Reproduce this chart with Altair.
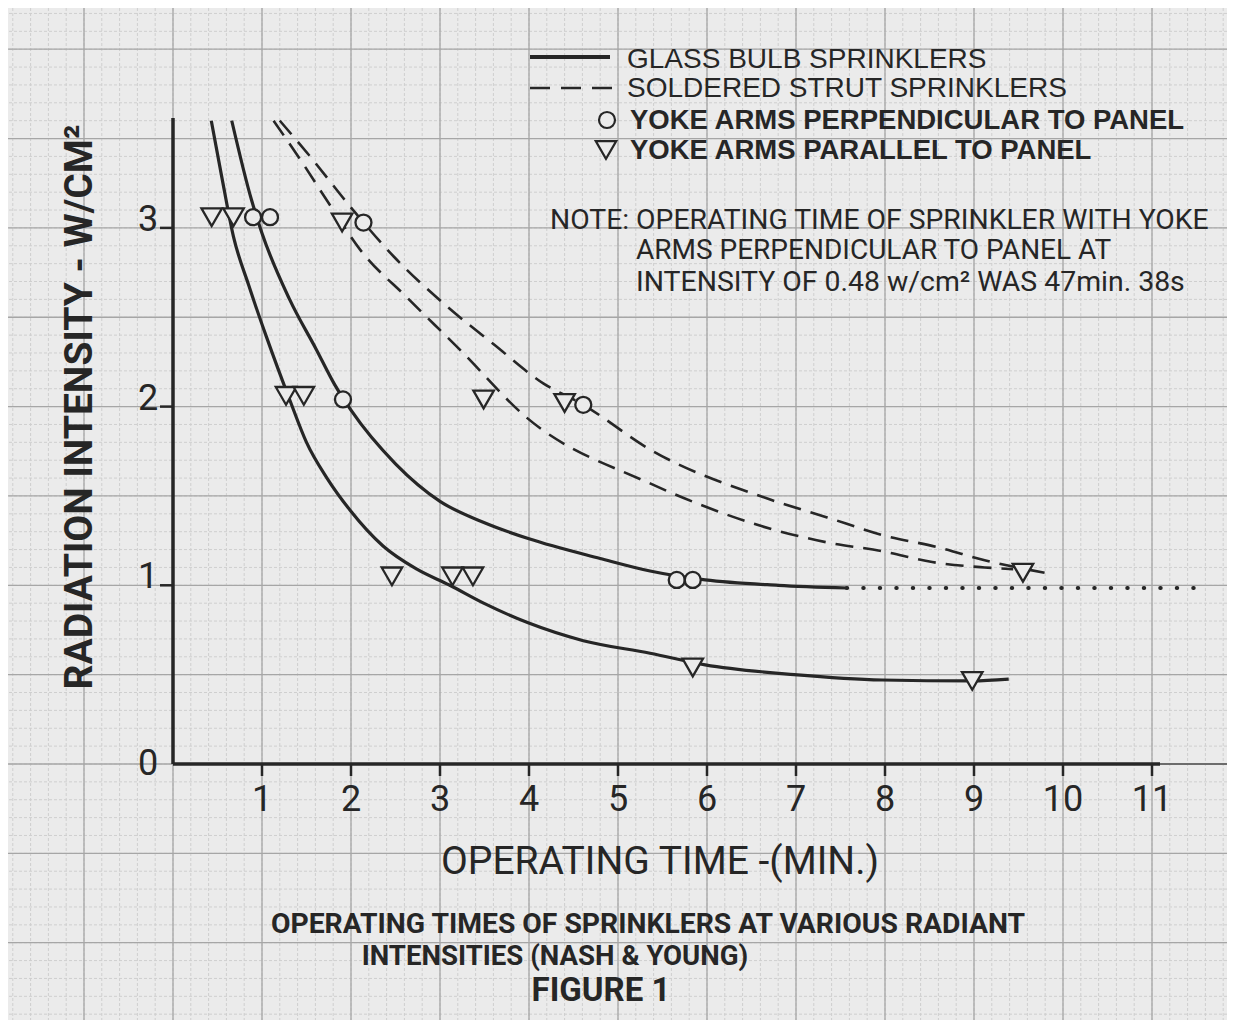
import altair as alt
import numpy as np
import pandas as pd

# ------------------------------------------------------------------ data
# Glass bulb sprinklers, yoke arms parallel to panel (lower solid curve)
GP_X = [0.43, 0.55, 0.68, 0.85, 1.05, 1.31, 1.50, 1.73, 1.99, 2.36, 2.74, 3.11, 3.49, 3.99, 4.61, 5.36, 5.98, 6.98, 7.97, 8.98, 9.39]
GP_Y = [3.60, 3.28, 2.95, 2.68, 2.39, 2.04, 1.80, 1.60, 1.42, 1.22, 1.09, 1.00, 0.90, 0.79, 0.69, 0.62, 0.555, 0.50, 0.47, 0.465, 0.475]
# Glass bulb sprinklers, yoke arms perpendicular to panel (upper solid curve)
GQ_X = [0.66, 0.88, 1.00, 1.31, 1.61, 1.82, 2.00, 2.50, 3.00, 3.50, 4.00, 4.80, 5.36, 5.98, 6.80, 7.57]
GQ_Y = [3.60, 3.16, 2.97, 2.60, 2.32, 2.12, 1.98, 1.68, 1.47, 1.35, 1.26, 1.15, 1.08, 1.03, 1.00, 0.985]
# dotted continuation of the upper solid curve
DOT_X = [7.57, 11.48]
DOT_Y = [0.985, 0.985]
# Soldered strut sprinklers, perpendicular (outer dashed curve)
SQ_X = [1.20, 1.54, 1.99, 2.48, 3.08, 3.60, 4.16, 4.61, 5.36, 6.71, 7.35, 7.98, 8.62, 9.12, 9.80]
SQ_Y = [3.60, 3.40, 3.12, 2.84, 2.56, 2.35, 2.13, 2.01, 1.76, 1.48, 1.38, 1.28, 1.21, 1.14, 1.07]
# Soldered strut sprinklers, parallel (inner dashed curve)
SP_X = [1.13, 1.46, 1.80, 2.10, 2.63, 3.22, 3.97, 5.36, 5.93, 6.62, 7.35, 7.98, 8.53, 9.12, 9.44]
SP_Y = [3.60, 3.36, 3.10, 2.88, 2.61, 2.32, 1.94, 1.57, 1.45, 1.33, 1.24, 1.19, 1.13, 1.10, 1.09]

# measured points: yoke arms perpendicular (circles) / parallel (triangles)
CIRC_X = [0.90, 1.09, 2.14, 1.91, 4.61, 5.66, 5.84]
CIRC_Y = [3.06, 3.06, 3.03, 2.04, 2.01, 1.03, 1.03]
TRI_X = [0.435, 0.68, 1.90, 1.27, 1.47, 3.49, 4.40, 2.46, 3.14, 3.37, 5.84, 8.98, 9.55]
TRI_Y = [3.06, 3.06, 3.03, 2.06, 2.06, 2.04, 2.02, 1.05, 1.05, 1.05, 0.54, 0.465, 1.07]

X_TICKS = [1, 2, 3, 4, 5, 6, 7, 8, 9, 10, 11]
Y_TICKS = [0, 1, 2, 3]
Y_AXIS_TOP = 3.615
X_AXIS_END = 11.09

LEGEND_TEXT = ["GLASS BULB SPRINKLERS", "SOLDERED STRUT SPRINKLERS",
               "YOKE ARMS PERPENDICULAR TO PANEL", "YOKE ARMS PARALLEL TO PANEL"]
NOTE_TEXT = ["NOTE: OPERATING TIME OF SPRINKLER WITH YOKE",
             "ARMS PERPENDICULAR TO PANEL AT",
             "INTENSITY OF 0.48 w/cm\u00b2 WAS 47min. 38s"]
Y_TITLE = "RADIATION INTENSITY - W/CM\u00b2"
X_TITLE = "OPERATING TIME -(MIN.)"
CAPTION = ["OPERATING TIMES OF SPRINKLERS AT VARIOUS RADIANT",
           "INTENSITIES (NASH & YOUNG)", "FIGURE 1"]

# ------------------------------------------------------------------ layout
W, H = 1219, 1012
X0, XU = 165.0, 89.0      # pixel of x = 0, pixels per minute
Y0, YU = 756.0, 178.7     # pixel of y = 0, pixels per W/cm2
XDOM = [-X0 / XU, (W - X0) / XU]
YDOM = [-(H - Y0) / YU, Y0 / YU]

BG = "#ebebeb"
INK = "#262626"
SANS = "Liberation Sans, Arial, sans-serif"
NARROW = "Roboto, sans-serif"

xs = alt.Scale(domain=XDOM, nice=False, zero=False)
ys = alt.Scale(domain=YDOM, nice=False, zero=False)


def ex(f):
    return alt.X(f, type="quantitative", scale=xs, axis=None)


def ey(f):
    return alt.Y(f, type="quantitative", scale=ys, axis=None)


# ---- graph-paper grid
vmin = np.round(np.arange(np.ceil(XDOM[0] / 0.2) * 0.2, XDOM[1], 0.2), 3)
hmin = np.round(np.arange(np.ceil(YDOM[0] / 0.1) * 0.1, YDOM[1], 0.1), 3)
vmaj = [float(v) for v in vmin if abs(v - round(v)) < 1e-6]
hmaj = [float(h) for h in hmin if abs(h * 2 - round(h * 2)) < 1e-6]

grid_v = alt.Chart(pd.DataFrame({"v": vmin})).mark_rule(color="#cfcfcf", strokeWidth=1, strokeDash=[3, 2]).encode(x=ex("v"))
grid_h = alt.Chart(pd.DataFrame({"h": hmin})).mark_rule(color="#cfcfcf", strokeWidth=1, strokeDash=[3, 2]).encode(y=ey("h"))
grid_V = alt.Chart(pd.DataFrame({"v": vmaj})).mark_rule(color="#a6a6a6", strokeWidth=1.3).encode(x=ex("v"))
grid_H = alt.Chart(pd.DataFrame({"h": hmaj})).mark_rule(color="#a6a6a6", strokeWidth=1.3).encode(y=ey("h"))

# ---- curves
glass = pd.concat([
    pd.DataFrame({"x": GP_X, "y": GP_Y, "yoke": "parallel"}),
    pd.DataFrame({"x": GQ_X, "y": GQ_Y, "yoke": "perpendicular"}),
], ignore_index=True)
soldered = pd.concat([
    pd.DataFrame({"x": SQ_X, "y": SQ_Y, "yoke": "perpendicular"}),
    pd.DataFrame({"x": SP_X, "y": SP_Y, "yoke": "parallel"}),
], ignore_index=True)
solid = alt.Chart(glass).mark_line(
    color=INK, strokeWidth=3.2, interpolate="monotone").encode(
    x=ex("x"), y=ey("y"), detail="yoke:N", order="x:Q")
dashed = alt.Chart(soldered).mark_line(
    color=INK, strokeWidth=2.6, strokeDash=[18, 10], interpolate="monotone").encode(
    x=ex("x"), y=ey("y"), detail="yoke:N", order="x:Q")
dotted = alt.Chart(pd.DataFrame({"x": DOT_X, "y": DOT_Y})).mark_line(
    color=INK, strokeWidth=4, strokeDash=[0.5, 16], strokeCap="round").encode(x=ex("x"), y=ey("y"))

# ---- axes (drawn on the paper)
axes_df = pd.DataFrame({
    "x1": [0.0, 0.0, X_AXIS_END], "x2": [0.0, X_AXIS_END, XDOM[1]],
    "y1": [0.0, 0.0, 0.0], "y2": [Y_AXIS_TOP, 0.0, 0.0], "w": ["thick", "thick", "thin"]})
axes_thick = alt.Chart(axes_df[axes_df.w == "thick"]).mark_rule(color=INK, strokeWidth=3.5).encode(
    x=ex("x1"), x2="x2", y=ey("y1"), y2="y2")
axes_thin = alt.Chart(axes_df[axes_df.w == "thin"]).mark_rule(color="#555555", strokeWidth=1.5).encode(
    x=ex("x1"), x2="x2", y=ey("y1"), y2="y2")

xt = pd.DataFrame({"v": X_TICKS, "lab": [str(v) for v in X_TICKS]})
xt["lo"] = -12 / YU
xt["hi"] = 0.0
xt["ly"] = -36 / YU
yt = pd.DataFrame({"v": Y_TICKS, "lab": [str(v) for v in Y_TICKS]})
yt["lo"] = -13 / XU
yt["hi"] = 0.0
yt["ly"] = [v + (0.045 if v > 0 else 0) for v in Y_TICKS]
yt["lx"] = -25 / XU
xticks = alt.Chart(xt).mark_rule(color=INK, strokeWidth=2.5).encode(x=ex("v"), y=ey("lo"), y2="hi")
yticks = alt.Chart(yt[yt.v > 0]).mark_rule(color=INK, strokeWidth=2.5).encode(y=ey("v"), x=ex("lo"), x2="hi")
xlabels = alt.Chart(xt).mark_text(font=NARROW, fontSize=36, color=INK, baseline="middle", align="center").encode(
    x=ex("v"), y=ey("ly"), text="lab:N")
ylabels = alt.Chart(yt).mark_text(font=NARROW, fontSize=36, color=INK, baseline="middle", align="center").encode(
    x=ex("lx"), y=ey("ly"), text="lab:N")

# ---- markers
pts = pd.concat([
    pd.DataFrame({"x": CIRC_X, "y": CIRC_Y, "yoke": "perpendicular"}),
    pd.DataFrame({"x": TRI_X, "y": TRI_Y, "yoke": "parallel"}),
], ignore_index=True)
shape_scale = alt.Scale(domain=["perpendicular", "parallel"], range=["circle", "triangle-down"])
markers = alt.Chart(pts).mark_point(filled=True, fill=BG, stroke=INK, strokeWidth=2.3, opacity=1).encode(
    x=ex("x"), y=ey("y"),
    shape=alt.Shape("yoke:N", scale=shape_scale, legend=None),
    size=alt.Size("yoke:N", scale=alt.Scale(domain=["perpendicular", "parallel"], range=[256, 420]), legend=None))

# ---- hand-made legend
leg_lines = pd.DataFrame({"x1": [(530 - 173) / XU] * 2, "x2": [(610 - 173) / XU, (612 - 173) / XU],
                          "y": [(764 - 57) / YU, (764 - 88) / YU], "k": ["solid", "dash"]})
leg_solid = alt.Chart(leg_lines[leg_lines.k == "solid"]).mark_rule(color=INK, strokeWidth=4).encode(
    x=ex("x1"), x2="x2", y=ey("y"))
leg_dash = alt.Chart(leg_lines[leg_lines.k == "dash"]).mark_rule(color=INK, strokeWidth=2.6, strokeDash=[20, 11]).encode(
    x=ex("x1"), x2="x2", y=ey("y"))
leg_sym = pd.DataFrame({"x": [(607 - 173) / XU, (606 - 173) / XU], "y": [(764 - 120) / YU, (764 - 150) / YU],
                        "yoke": ["perpendicular", "parallel"]})
leg_markers = alt.Chart(leg_sym).mark_point(filled=True, fill=BG, stroke=INK, strokeWidth=2.2, opacity=1).encode(
    x=ex("x"), y=ey("y"),
    shape=alt.Shape("yoke:N", scale=shape_scale, legend=None),
    size=alt.Size("yoke:N", scale=alt.Scale(domain=["perpendicular", "parallel"], range=[190, 260]), legend=None))


def label(text, px, py, size, font=SANS, weight="normal", align="left", angle=0):
    d = pd.DataFrame({"t": [text], "x": [(px - 173) / XU], "y": [(764 - py) / YU]})
    kw = dict(font=font, fontSize=size, fontWeight=weight, color=INK, align=align, baseline="middle")
    if angle:
        kw["angle"] = angle
    return alt.Chart(d).mark_text(**kw).encode(x=ex("x"), y=ey("y"), text="t:N")


texts = [
    label(LEGEND_TEXT[0], 627, 60, 28),
    label(LEGEND_TEXT[1], 627, 89, 28),
    label(LEGEND_TEXT[2], 630, 121, 27.5, weight="bold"),
    label(LEGEND_TEXT[3], 630, 151, 27.5, weight="bold"),
    label(NOTE_TEXT[0], 550, 221, 28.3, font=NARROW),
    label(NOTE_TEXT[1], 636, 251, 28, font=NARROW),
    label(NOTE_TEXT[2], 636, 282, 28.4, font=NARROW),
    label(Y_TITLE, 80, 407, 39, font=NARROW, weight="bold", align="center", angle=270),
    label(X_TITLE, 660, 862, 39, font=NARROW, align="center"),
    label(CAPTION[0], 648, 925, 28.3, font=NARROW, weight="bold", align="center"),
    label(CAPTION[1], 555, 957, 27.6, font=NARROW, weight="bold", align="center"),
    label(CAPTION[2], 601, 991, 33, font=NARROW, weight="bold", align="center"),
]

chart = alt.layer(
    grid_v, grid_h, grid_V, grid_H,
    solid, dashed, dotted,
    axes_thin, axes_thick, xticks, yticks,
    markers, leg_solid, leg_dash, leg_markers,
    xlabels, ylabels, *texts,
).properties(
    width=W, height=H, padding=0, autosize=alt.AutoSizeParams(type="none"), background=BG,
).configure_view(stroke=None)

chart.save("out.html", embed_options={"renderer": "svg", "actions": False})
